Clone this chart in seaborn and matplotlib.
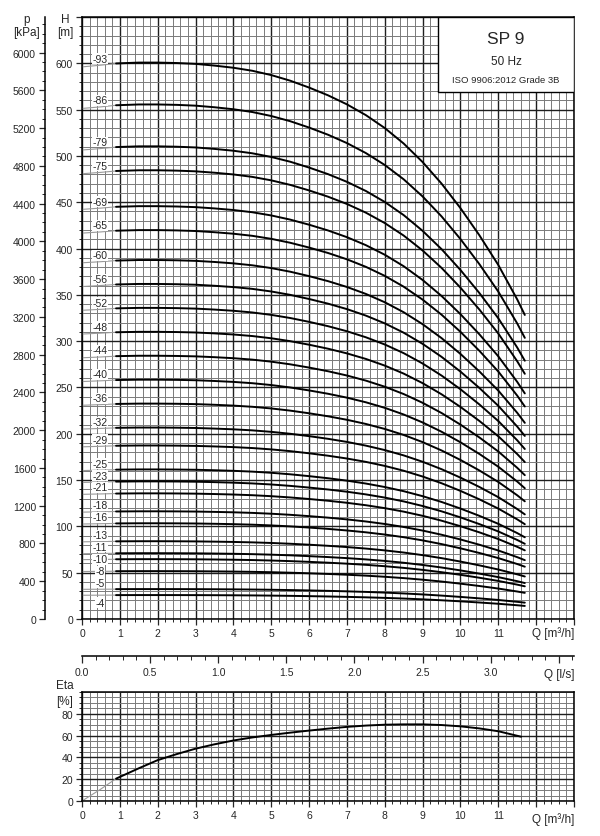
import numpy as np
import pandas as pd
import matplotlib
matplotlib.use("Agg")
import matplotlib.pyplot as plt
import seaborn as sns
from matplotlib.ticker import MultipleLocator, FixedLocator, FuncFormatter, NullLocator
from matplotlib.patches import Rectangle

# ---------------- data ----------------
stages = [93, 86, 79, 75, 69, 65, 60, 56, 52, 48, 44, 40, 36, 32, 29,
          25, 23, 21, 18, 16, 13, 11, 10, 8, 5, 4]
q_m3h = [0, 0.5, 0.9, 1.5, 2, 2.5, 3, 3.5, 4, 4.5, 5, 5.5, 6, 6.5, 7,
         7.5, 8, 8.5, 9, 9.5, 10, 10.5, 11, 11.5, 11.7]
# head per stage [m]
head_per_stage = [6.41, 6.43, 6.45, 6.46, 6.46, 6.455, 6.445, 6.425, 6.40, 6.365,
                  6.315, 6.25, 6.17, 6.08, 5.975, 5.85, 5.70, 5.52, 5.305, 5.055,
                  4.77, 4.455, 4.11, 3.71, 3.53]
eta_q = [0, 0.5, 0.9, 1.5, 2, 2.5, 3, 3.5, 4, 4.5, 5, 5.5, 6, 6.5, 7, 7.5,
         8, 8.5, 9, 9.5, 10, 10.5, 11, 11.6]
eta_pct = [0, 11, 20.5, 30, 37.5, 43, 48, 52, 55.5, 58.3, 60.6, 62.7, 64.6,
           66.4, 68.0, 69.2, 70, 70.3, 70.3, 69.7, 68.5, 66.6, 64, 59]
title_lines = ["SP 9", "50 Hz", "ISO 9906:2012 Grade 3B"]
q_start = 0.9   # start of the valid (black) range

# ---------------- build tables ----------------
rows = []
for n in stages:
    for q, h in zip(q_m3h, head_per_stage):
        rows.append({"stage": n, "Q": q, "H": n * h})
df = pd.DataFrame(rows)
df_black = df[df["Q"] >= q_start]
df_gray = df[df["Q"] <= q_start]
eta_df = pd.DataFrame({"Q": eta_q, "Eta": eta_pct})
eta_black = eta_df[eta_df["Q"] >= q_start]
eta_gray = eta_df[eta_df["Q"] <= q_start]

# ---------------- style ----------------
sns.set_style("white")
plt.rcParams["font.family"] = ["Liberation Sans", "DejaVu Sans"]
plt.rcParams["axes.linewidth"] = 1.0
plt.rcParams["axes.edgecolor"] = "black"

W, Hpx = 600, 837
fig = plt.figure(figsize=(W / 100, Hpx / 100), dpi=100)
fig.patch.set_facecolor("white")

def fx(x):
    return x / W

def fy(y):
    return 1 - y / Hpx

L, R = 82, 574
main_top, main_bot = 18, 620
eta_top, eta_bot = 693, 802
ls_y = 657

ax = fig.add_axes([fx(L), fy(main_bot), (R - L) / W, (main_bot - main_top) / Hpx])
axe = fig.add_axes([fx(L), fy(eta_bot), (R - L) / W, (eta_bot - eta_top) / Hpx])
axls = fig.add_axes([fx(L), fy(ls_y), (R - L) / W, 0.0001])
axp = fig.add_axes([fx(45), fy(main_bot), 0.0001, (main_bot - main_top) / Hpx])

minor_c, major_c = "#7a7a7a", "#1e1e1e"
tick_fs = 7.5
q_fmt = FuncFormatter(lambda v, p: f"{int(round(v))}" if v <= 11.01 else "")

def style_grid_axes(a):
    a.grid(which="minor", color=minor_c, lw=0.7, zorder=0)
    a.grid(which="major", color=major_c, lw=1.0, zorder=0)
    a.set_axisbelow(True)
    a.tick_params(axis="both", which="major", direction="out", length=4.5, width=0.9,
                  labelsize=tick_fs, pad=2, left=True, bottom=True)
    a.tick_params(axis="both", which="minor", direction="out", length=2.3, width=0.7,
                  left=True, bottom=True)
    for s in a.spines.values():
        s.set_color("black"); s.set_linewidth(1.1)

# ---------------- main H-Q chart ----------------
ax.set_xlim(0, 13)
ax.set_ylim(0, 650)
ax.xaxis.set_major_locator(FixedLocator(list(range(0, 14))))
ax.xaxis.set_minor_locator(MultipleLocator(0.2))
ax.xaxis.set_major_formatter(q_fmt)
ax.yaxis.set_major_locator(FixedLocator(list(range(0, 651, 50))))
ax.yaxis.set_major_formatter(FuncFormatter(lambda v, p: f"{int(v)}" if v <= 600 else ""))
ax.yaxis.set_minor_locator(MultipleLocator(10))
style_grid_axes(ax)

sns.lineplot(data=df_gray, x="Q", y="H", units="stage", estimator=None,
             color="#9a9a9a", lw=0.8, ax=ax, legend=False, sort=True)
sns.lineplot(data=df_black, x="Q", y="H", units="stage", estimator=None,
             color="black", lw=1.4, ax=ax, legend=False, sort=True)
ax.set_xlabel(""); ax.set_ylabel("")

label_offset = {10: 0, 8: 0, 4: -8}
for n in stages:
    hy = n * head_per_stage[1] + label_offset.get(n, 7)
    ax.text(0.48, hy, f"-{n}", ha="center", va="center", fontsize=7.5, zorder=4,
            bbox=dict(facecolor="white", edgecolor="none", pad=0.3))

# title box
ax.add_patch(Rectangle((0.7236, 0.875), 0.2764, 0.125, transform=ax.transAxes,
                       facecolor="white", edgecolor="black", lw=1.0, zorder=5))
ax.text(0.862, 0.964, title_lines[0], transform=ax.transAxes, ha="center",
        va="center", fontsize=12.5, zorder=6)
ax.text(0.862, 0.927, title_lines[1], transform=ax.transAxes, ha="center",
        va="center", fontsize=8.5, zorder=6)
ax.text(0.862, 0.897, title_lines[2], transform=ax.transAxes, ha="center",
        va="center", fontsize=6.8, zorder=6)

# ---------------- p axis ----------------
axp.set_ylim(0, 650 * 9.81)
axp.set_xlim(0, 1)
axp.patch.set_visible(False)
for k in ["top", "right", "bottom"]:
    axp.spines[k].set_visible(False)
axp.spines["left"].set_linewidth(1.1)
axp.xaxis.set_major_locator(NullLocator())
axp.yaxis.set_major_locator(FixedLocator(list(range(0, 6001, 400))))
axp.yaxis.set_minor_locator(MultipleLocator(100))
axp.tick_params(axis="y", which="major", direction="out", length=4.5, width=0.9,
                labelsize=tick_fs, pad=2, left=True)
axp.tick_params(axis="y", which="minor", direction="out", length=2.3, width=0.7, left=True)

# ---------------- l/s axis ----------------
axls.set_xlim(0, 13 / 3.6)
axls.patch.set_visible(False)
for k in ["top", "right", "left"]:
    axls.spines[k].set_visible(False)
axls.spines["bottom"].set_linewidth(1.1)
axls.yaxis.set_major_locator(NullLocator())
axls.xaxis.set_major_locator(FixedLocator([0, 0.5, 1.0, 1.5, 2.0, 2.5, 3.0, 3.5]))
axls.xaxis.set_major_formatter(FuncFormatter(lambda v, p: f"{v:.1f}" if v <= 3.01 else ""))
axls.xaxis.set_minor_locator(MultipleLocator(0.1))
axls.tick_params(axis="x", which="major", direction="out", length=5, width=0.9,
                 labelsize=tick_fs, pad=3, bottom=True)
axls.tick_params(axis="x", which="minor", direction="out", length=3, width=0.7, bottom=True)

# ---------------- Eta chart ----------------
axe.set_xlim(0, 13)
axe.set_ylim(0, 100)
axe.xaxis.set_major_locator(FixedLocator(list(range(0, 14))))
axe.xaxis.set_minor_locator(MultipleLocator(0.2))
axe.xaxis.set_major_formatter(q_fmt)
axe.yaxis.set_major_locator(FixedLocator([0, 20, 40, 60, 80]))
axe.yaxis.set_minor_locator(MultipleLocator(5))
style_grid_axes(axe)
sns.lineplot(data=eta_gray, x="Q", y="Eta", color="#9a9a9a", lw=0.8, ax=axe, legend=False)
sns.lineplot(data=eta_black, x="Q", y="Eta", color="black", lw=1.4, ax=axe, legend=False)
axe.set_xlabel(""); axe.set_ylabel("")

# ---------------- free texts ----------------
lab_fs = 8.5
fig.text(fx(27), fy(20), "p", ha="center", va="center", fontsize=lab_fs)
fig.text(fx(27), fy(33), "[kPa]", ha="center", va="center", fontsize=lab_fs)
fig.text(fx(65), fy(20), "H", ha="center", va="center", fontsize=lab_fs)
fig.text(fx(65), fy(33), "[m]", ha="center", va="center", fontsize=lab_fs)
fig.text(fx(65), fy(686), "Eta", ha="center", va="center", fontsize=lab_fs)
fig.text(fx(65), fy(702), "[%]", ha="center", va="center", fontsize=lab_fs)
fig.text(fx(574), fy(634), "Q [m³/h]", ha="right", va="center", fontsize=lab_fs)
fig.text(fx(574), fy(675), "Q [l/s]", ha="right", va="center", fontsize=lab_fs)
fig.text(fx(574), fy(820), "Q [m³/h]", ha="right", va="center", fontsize=lab_fs)

fig.savefig("out.png", dpi=100, facecolor="white")
